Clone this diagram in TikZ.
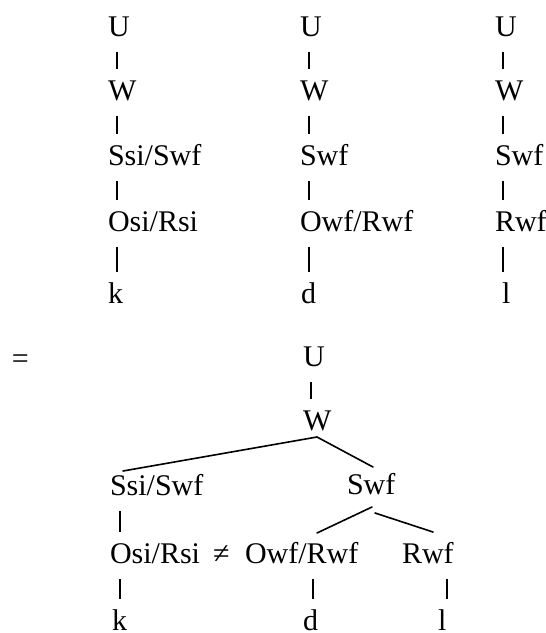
\documentclass[tikz,border=0pt]{standalone}
\usepackage{fontspec}
\setmainfont{Liberation Serif}
\usetikzlibrary{calc}
\tikzset{
  lbl/.style={anchor=base west, inner sep=0pt, outer sep=0pt,
    font=\fontsize{30}{30}\selectfont},
  bar/.style={line width=1.5pt},
  branch/.style={line width=1.6pt, line cap=round},
}
% vertical stroke between two stacked labels, placed over the lower one
\newcommand\barlink[3]{%
  \draw[bar] ($(#1.base west -| #2.base west)+(#3,16)$) -- ($(#2.base west)+(#3,-31)$);}
\begin{document}
\begin{tikzpicture}[x=1pt, y=-1pt]
\useasboundingbox (0,0) rectangle (546,633);

% ---- three separate chains ----
\node[lbl] (u1) at (108,36)  {U};
\node[lbl] (w1) at (108,100) {W};
\node[lbl] (s1) at (108,165) {Ssi/Swf};
\node[lbl] (o1) at (108,231) {Osi/Rsi};
\node[lbl] (k1) at (108,303) {k};

\node[lbl] (u2) at (300,36)  {U};
\node[lbl] (w2) at (300,100) {W};
\node[lbl] (s2) at (300,165) {Swf};
\node[lbl] (o2) at (300,231) {Owf/Rwf};
\node[lbl] (d2) at (301,303) {d};

\node[lbl] (u3) at (495,36)  {U};
\node[lbl] (w3) at (495,100) {W};
\node[lbl] (s3) at (495,165) {Swf};
\node[lbl] (o3) at (495,231) {Rwf};
\node[lbl] (l3) at (502,303) {l};

\barlink{u1}{w1}{9}\barlink{w1}{s1}{9}\barlink{s1}{o1}{9}\barlink{o1}{k1}{9}
\barlink{u2}{w2}{9}\barlink{w2}{s2}{9}\barlink{s2}{o2}{9}\barlink{o2}{d2}{8}
\barlink{u3}{w3}{8}\barlink{w3}{s3}{8}\barlink{s3}{o3}{8}\barlink{o3}{l3}{1}

% ---- merged tree ----
\node[lbl] (eq) at (12,368) {=};
\node[lbl] (ub) at (303,366) {U};
\node[lbl] (wb) at (303,430) {W};
\node[lbl] (sb) at (110,495) {Ssi/Swf};
\node[lbl] (fb) at (347,494) {Swf};
\node[lbl] (ob) at (110,563) {Osi/Rsi};
\node[lbl] (ne) at (213,563) {≠};
\node[lbl] (owb) at (245,563) {Owf/Rwf};
\node[lbl] (rb) at (402,563) {Rwf};
\node[lbl] (kb) at (112,630) {k};
\node[lbl] (db) at (303,630) {d};
\node[lbl] (lb) at (438,630) {l};

\barlink{ub}{wb}{8}
\barlink{sb}{ob}{10}
\barlink{ob}{kb}{8}
\barlink{owb}{db}{10}
\barlink{rb}{lb}{9}

\draw[branch] ($(wb.base west)+(14,7)$) -- ($(sb.base west)+(13,-24)$);
\draw[branch] ($(wb.base west)+(14,7)$) -- ($(fb.base west)+(26,-27)$);
\draw[branch] ($(fb.base west)+(25,13)$) -- ($(owb.base west)+(72,-30)$);
\draw[branch] ($(fb.base west)+(28,19)$) -- ($(rb.base west)+(31,-31)$);
\end{tikzpicture}
\end{document}
